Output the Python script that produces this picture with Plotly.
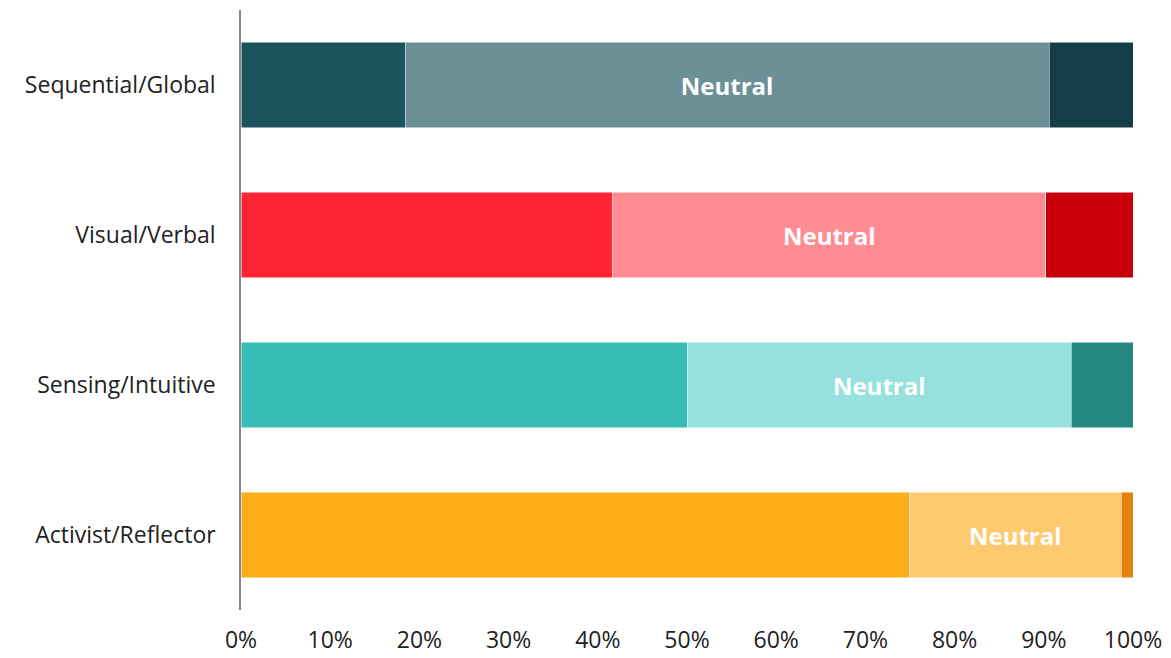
import plotly.graph_objects as go

categories = ["Sequential/Global", "Visual/Verbal", "Sensing/Intuitive", "Activist/Reflector"]
first_pct = [18.4, 41.7, 50.0, 74.9]
neutral_pct = [72.2, 48.5, 43.1, 23.8]
last_pct = [9.4, 9.8, 6.9, 1.3]
neutral_label = "Neutral"

first_colors = ["#1C525C", "#FF2433", "#37BDB5", "#FDAD17"]
neutral_colors = ["#6B9196", "#FF8C93", "#96E1DD", "#FECA70"]
last_colors = ["#133E47", "#C7000B", "#258781", "#E8800D"]

font_family = "Open Sans, Liberation Sans, sans-serif"

fig = go.Figure()
fig.add_trace(go.Bar(
    y=categories, x=[v / 100 for v in first_pct], orientation="h",
    marker=dict(color=first_colors, line=dict(color="white", width=0.5)),
    hoverinfo="skip", showlegend=False, width=0.57,
))
fig.add_trace(go.Bar(
    y=categories, x=[v / 100 for v in neutral_pct], orientation="h",
    marker=dict(color=neutral_colors, line=dict(color="white", width=0.5)),
    text=[neutral_label] * len(categories), textposition="inside",
    insidetextanchor="middle",
    textfont=dict(color="white", size=24, family=font_family),
    texttemplate="<b>%{text}</b>",
    hoverinfo="skip", showlegend=False, width=0.57,
))
fig.add_trace(go.Bar(
    y=categories, x=[v / 100 for v in last_pct], orientation="h",
    marker=dict(color=last_colors, line=dict(color="white", width=0.5)),
    hoverinfo="skip", showlegend=False, width=0.57,
))

fig.update_layout(
    barmode="stack",
    width=1171, height=658,
    margin=dict(l=241, r=38, t=10, b=48),
    paper_bgcolor="white", plot_bgcolor="white",
    font=dict(family=font_family, color="#222222", size=23),
    uniformtext=dict(mode="show", minsize=10),
)
fig.update_xaxes(
    range=[0, 1], tickformat=".0%", dtick=0.1, tick0=0,
    showgrid=False, zeroline=False, showline=False, automargin=False,
    ticks="", ticklabelstandoff=14, tickfont=dict(size=23, color="#222222"),
)
fig.update_yaxes(
    categoryorder="array", categoryarray=categories[::-1],
    showgrid=False, zeroline=False, showline=True, linecolor="#888888", linewidth=1.5,
    automargin=False,
    ticks="", ticklabelstandoff=19, tickfont=dict(size=23, color="#222222"),
)

fig.write_html("out.html")
